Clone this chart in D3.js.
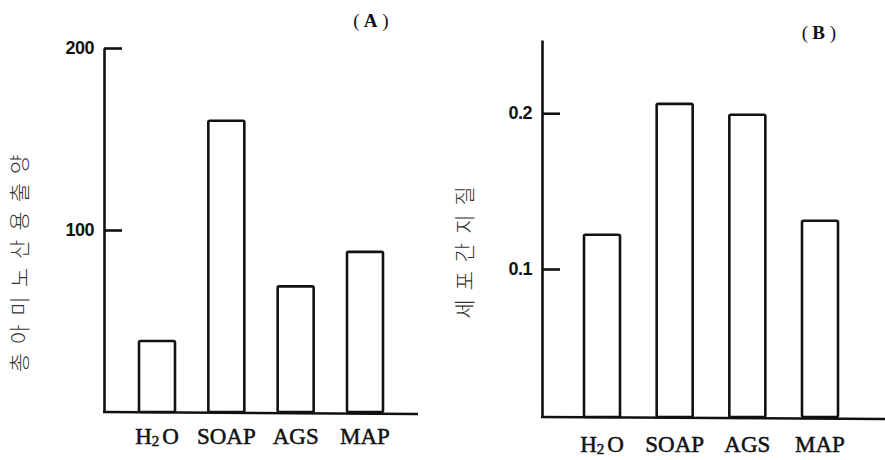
<!DOCTYPE html>
<html>
<head>
<meta charset="utf-8">
<script src="https://cdn.jsdelivr.net/npm/d3@7"></script>
<style>
  body { margin: 0; background: #fff; }
  svg { display: block; }
</style>
</head>
<body>
<div id="chart"></div>
<script>
// data
const categories = ["H2O", "SOAP", "AGS", "MAP"];
const aminoValues = [39, 160, 69, 88];          // panel A
const lipidValues = [0.122, 0.206, 0.199, 0.131]; // panel B
const ticksA = [100, 200];
const ticksB = [0.1, 0.2];

const W = 885, H = 460;
const ink = "#111";

const svg = d3.select("#chart").append("svg")
    .attr("width", W)
    .attr("height", H);

// panel layout
const panels = [
    {
        values: aminoValues, ticks: ticksA, fmt: d3.format("d"),
        title: "A", ylabel: "총아미노산용출양",
        axisX: 104, xEnd: 418,
        y: d3.scaleLinear().domain([0, 200]).range([412, 48]),
        x: d3.scalePoint().domain(categories).range([157, 365]),
        barW: 36, labelY: 444, titleX: 371, titleY: 27,
        ylabelX: 20, ylabelY: 263
    },
    {
        values: lipidValues, ticks: ticksB, fmt: d3.format(".1f"),
        title: "B", ylabel: "세포간지질",
        axisX: 542, xEnd: 885,
        y: d3.scaleLinear().domain([0.005, 0.247]).range([417, 40]),
        x: d3.scalePoint().domain(categories).range([602, 820]),
        barW: 36, labelY: 452, titleX: 819, titleY: 39,
        ylabelX: 465, ylabelY: 252
    }
];

panels.forEach(p => {
    const g = svg.append("g");
    const base = p.y.range()[0];

    // bars
    g.selectAll("rect.bar")
        .data(p.values)
        .enter()
        .append("rect")
        .attr("class", "bar")
        .attr("x", (d, i) => p.x(categories[i]) - p.barW / 2)
        .attr("y", d => p.y(d))
        .attr("width", p.barW)
        .attr("height", d => base - p.y(d))
        .attr("rx", 1.5)
        .attr("fill", "#fff")
        .attr("stroke", ink)
        .attr("stroke-width", 2.6);

    // y axis, ticks pointing inwards
    const yAxis = g.append("g")
        .attr("transform", `translate(${p.axisX},0)`)
        .call(d3.axisLeft(p.y)
            .tickValues(p.ticks)
            .tickFormat(p.fmt)
            .tickSize(-18)
            .tickSizeOuter(0)
            .tickPadding(10));
    yAxis.select(".domain").attr("stroke", ink).attr("stroke-width", 2.6);
    yAxis.selectAll(".tick line").attr("stroke", ink).attr("stroke-width", 2.6);
    yAxis.selectAll(".tick text")
        .attr("fill", ink)
        .style("font-family", "'Liberation Sans', sans-serif")
        .style("font-weight", "bold")
        .style("font-size", "18px")
        .style("letter-spacing", "-0.5px");

    // x axis baseline
    g.append("line")
        .attr("x1", p.axisX - 1)
        .attr("x2", p.xEnd)
        .attr("y1", base)
        .attr("y2", base + 2)
        .attr("stroke", ink)
        .attr("stroke-width", 2.6);

    // category labels
    const lab = g.selectAll("text.cat")
        .data(categories)
        .enter()
        .append("text")
        .attr("class", "cat")
        .attr("x", d => p.x(d))
        .attr("y", p.labelY)
        .attr("text-anchor", "middle")
        .attr("fill", ink)
        .attr("stroke", ink)
        .attr("stroke-width", 0.5)
        .style("font-family", "'Liberation Serif', serif")
        .style("font-size", "23px");
    lab.each(function (d) {
        const t = d3.select(this);
        if (d === "H2O") {
            t.append("tspan").text("H");
            t.append("tspan").attr("dy", 2).style("font-size", "15px").text("2");
            t.append("tspan").attr("dy", -2).attr("dx", 3).text("O");
        } else {
            t.text(d);
        }
    });

    // panel title
    const tt = g.append("text")
        .attr("x", p.titleX)
        .attr("y", p.titleY)
        .attr("text-anchor", "middle")
        .attr("fill", ink)
        .style("font-family", "'Liberation Serif', serif")
        .style("font-size", "19px");
    tt.append("tspan").text("(");
    tt.append("tspan").attr("dx", 4).style("font-weight", "bold").text(p.title);
    tt.append("tspan").attr("dx", 5).text(")");

    // y label (Korean)
    g.append("text")
        .attr("transform", `translate(${p.ylabelX},${p.ylabelY}) rotate(-90)`)
        .attr("text-anchor", "middle")
        .attr("dy", "0.35em")
        .attr("dx", "4px")
        .attr("fill", "#333")
        .style("font-family", "'Noto Sans CJK KR', sans-serif")
        .style("font-weight", "300")
        .style("font-size", "21px")
        .style("letter-spacing", "9px")
        .text(p.ylabel);
});
</script>
</body>
</html>
